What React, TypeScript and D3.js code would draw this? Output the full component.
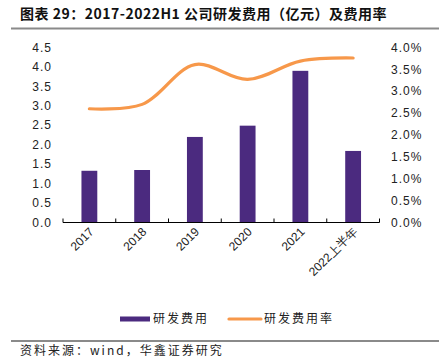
import React from "react";
import * as d3 from "d3";

const categories = ["2017", "2018", "2019", "2020", "2021", "2022上半年"];
const rdExpense = [1.33, 1.35, 2.2, 2.49, 3.9, 1.84];
const rdRate = [2.6, 2.7, 3.61, 3.27, 3.69, 3.76];
const leftTicks = [0, 0.5, 1, 1.5, 2, 2.5, 3, 3.5, 4, 4.5];
const rightTicks = [0, 0.5, 1, 1.5, 2, 2.5, 3, 3.5, 4];

const W = 439;
const H = 359;
const plot = { left: 63, right: 379.5, top: 47.5, bottom: 222.5 };
const barColor = "#4B2A7F";
const lineColor = "#F7984A";
const font = "'Liberation Sans', Arial, sans-serif";
const cjk = "'Noto Sans CJK SC', sans-serif";

export default function App() {
  const x = d3.scaleBand<string>().domain(categories).range([plot.left, plot.right]).paddingInner(0.7).paddingOuter(0.35);
  const xb = d3.scaleBand<string>().domain(categories).range([plot.left, plot.right]);
  const yL = d3.scaleLinear().domain([0, 4.5]).range([plot.bottom, plot.top]);
  const yR = d3.scaleLinear().domain([0, 4]).range([plot.bottom, plot.top]);
  const line = d3
    .line<number>()
    .x((_, i) => (xb(categories[i]) as number) + xb.bandwidth() / 2)
    .y((d) => yR(d))
    .curve(d3.curveCatmullRom.alpha(0.5));
  const tickXs = categories.map((c) => xb(c) as number).concat([plot.right]);

  return (
    <svg width={W} height={H} style={{ position: "absolute", left: 0, top: 0, background: "#fff" }}>
      <text x={20} y={19} fontFamily={cjk} fontWeight="bold" fontSize={14} fill="#111" letterSpacing={0.5}>
        图表 29：2017-2022H1 公司研发费用（亿元）及费用率
      </text>
      <line x1={11} x2={439} y1={28.5} y2={28.5} stroke="#8a8a8a" strokeWidth={2} />

      {categories.map((c, i) => (
        <rect
          key={c}
          x={x(c)}
          y={yL(rdExpense[i])}
          width={x.bandwidth()}
          height={plot.bottom - yL(rdExpense[i])}
          fill={barColor}
        />
      ))}

      <line x1={plot.left} x2={plot.right} y1={plot.bottom} y2={plot.bottom} stroke="#000" strokeWidth={1} />
      {tickXs.map((tx, i) => (
        <line key={i} x1={tx} x2={tx} y1={plot.bottom} y2={plot.bottom - 4} stroke="#000" strokeWidth={1} />
      ))}

      <path d={line(rdRate) || ""} fill="none" stroke={lineColor} strokeWidth={3.2} strokeLinecap="round" />

      {leftTicks.map((t) => (
        <text key={t} x={52} y={yL(t)} dy="0.35em" textAnchor="end" fontFamily={font} fontSize={12} fill="#222" letterSpacing={1}>
          {t.toFixed(1)}
        </text>
      ))}
      {rightTicks.map((t) => (
        <text key={t} x={391} y={yR(t)} dy="0.35em" textAnchor="start" fontFamily={font} fontSize={12} fill="#222" letterSpacing={1}>
          {t.toFixed(1) + "%"}
        </text>
      ))}

      {categories.map((c) => {
        const cx = (xb(c) as number) + xb.bandwidth() / 2;
        return (
          <text
            key={c}
            transform={`translate(${cx + 5},${plot.bottom + 10}) rotate(-45)`}
            textAnchor="end"
            fontFamily={font}
            fontSize={12}
            fill="#222"
          >
            {c}
          </text>
        );
      })}

      <rect x={120} y={316.5} width={30} height={5} fill={barColor} />
      <text x={153} y={323} fontFamily={cjk} fontSize={12} fill="#222" letterSpacing={2}>研发费用</text>
      <line x1={229} x2={261} y1={319} y2={319} stroke={lineColor} strokeWidth={3.2} strokeLinecap="round" />
      <text x={264} y={323} fontFamily={cjk} fontSize={12} fill="#222" letterSpacing={2}>研发费用率</text>

      <line x1={11} x2={439} y1={341} y2={341} stroke="#8a8a8a" strokeWidth={2} />
      <text x={20} y={355} fontFamily={cjk} fontSize={12} fill="#222" letterSpacing={2}>资料来源：wind，华鑫证券研究</text>
    </svg>
  );
}
